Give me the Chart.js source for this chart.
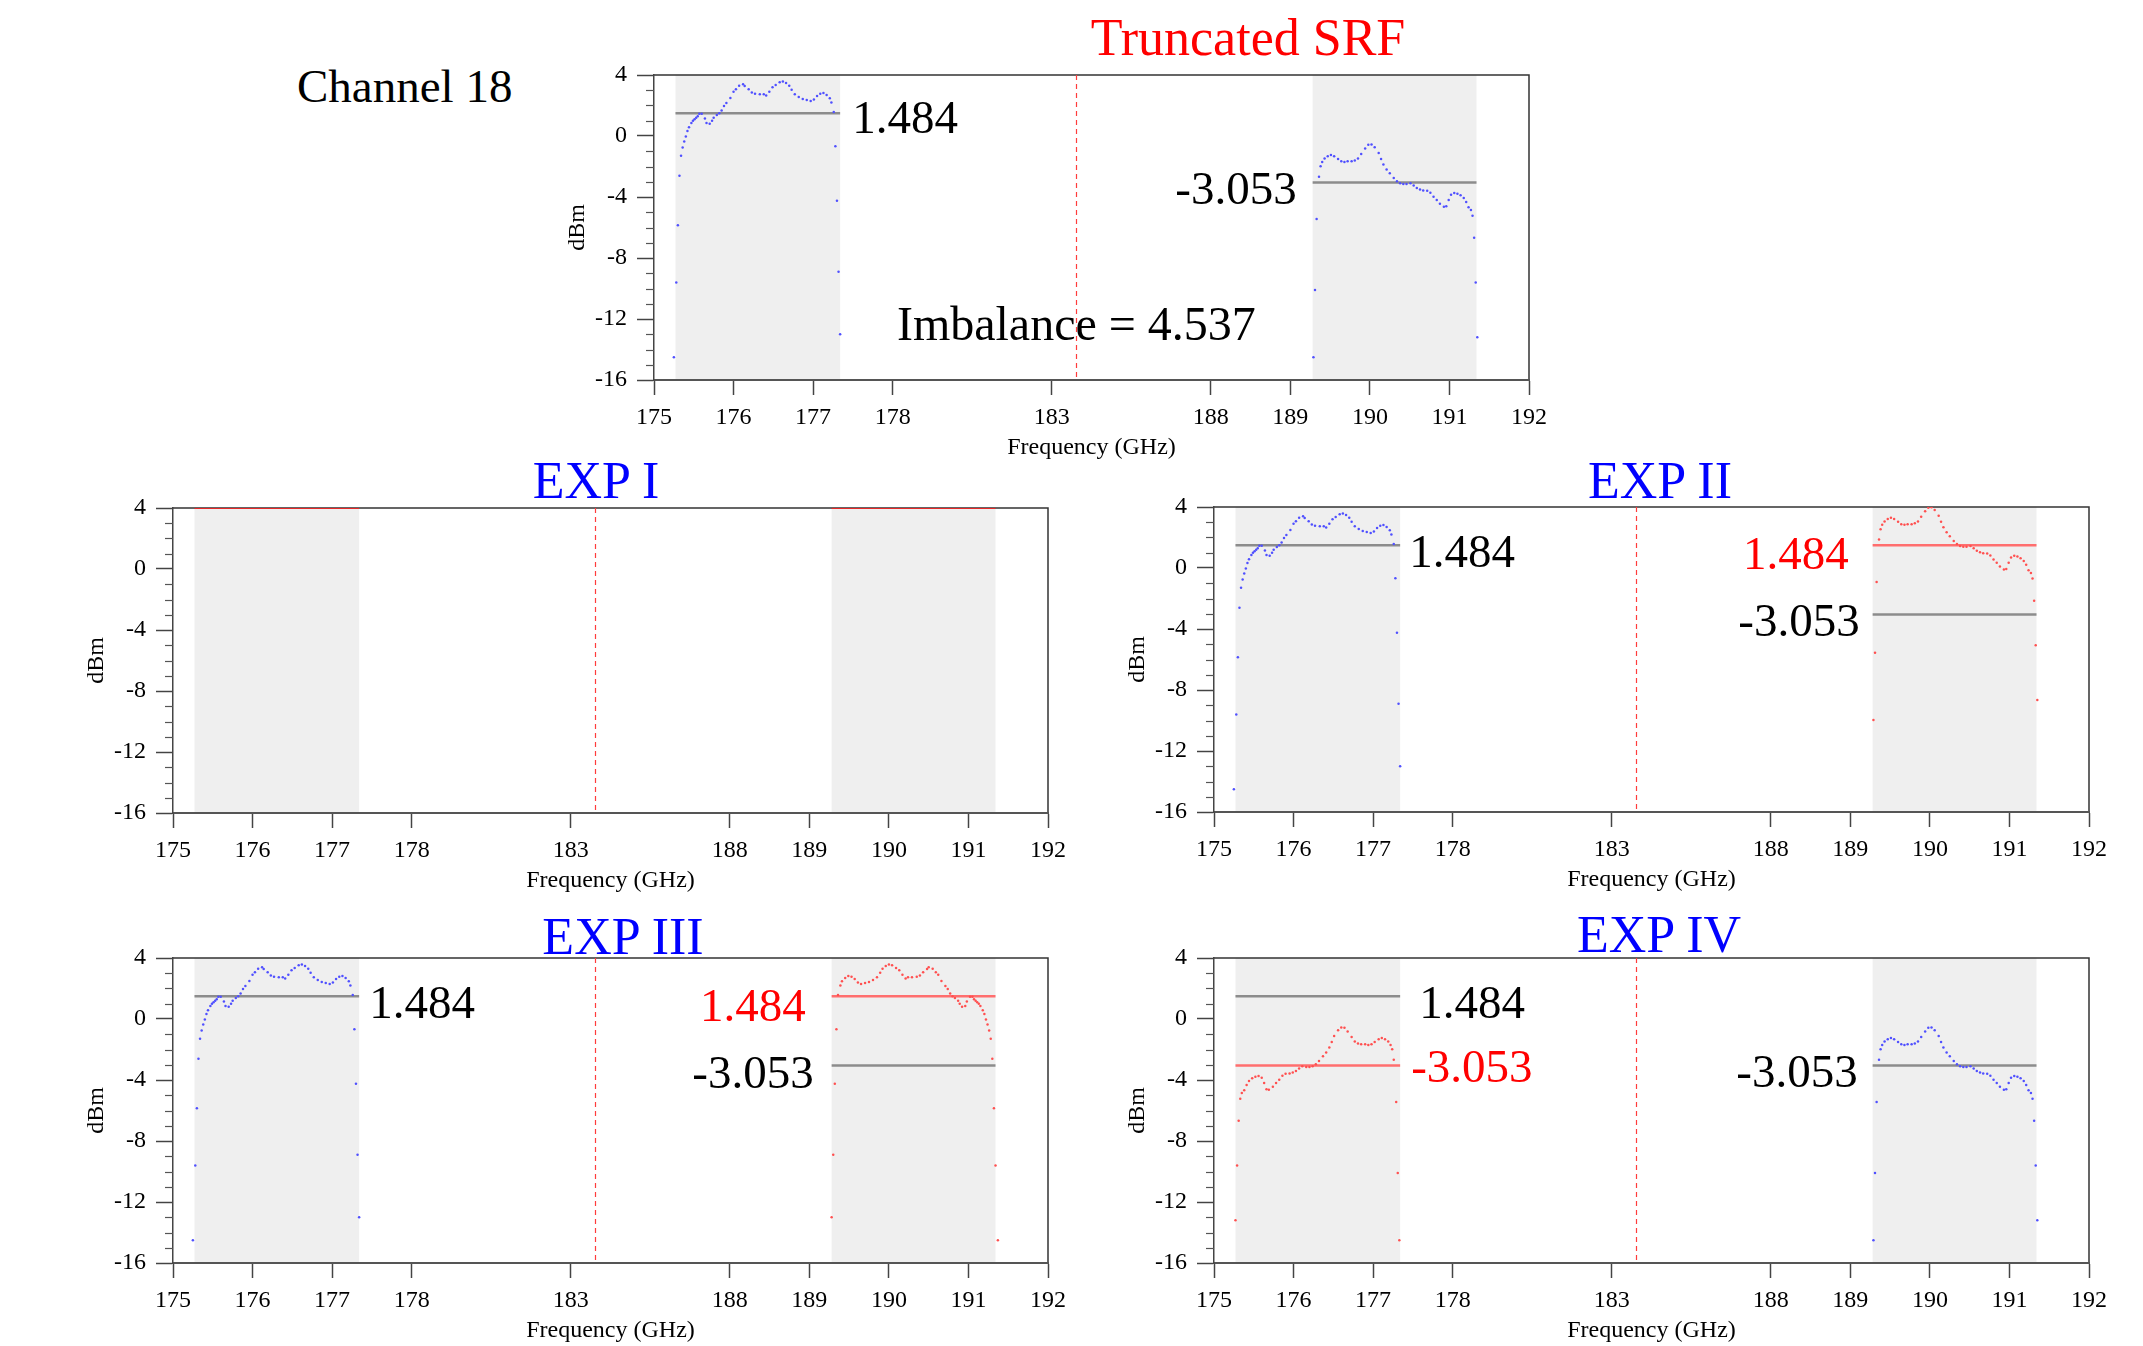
<!DOCTYPE html>
<html>
<head>
<meta charset="utf-8">
<script src="https://cdn.jsdelivr.net/npm/chart.js@4.4.1/dist/chart.umd.min.js"></script>
<style>
  body { margin: 0; width: 2143px; height: 1346px; background: #fff; position: relative; overflow: hidden;
         font-family: 'Liberation Serif', 'Times New Roman', serif; }
  canvas { position: absolute; }
  .t { position: absolute; line-height: 1; white-space: nowrap; transform: translate(-50%, -50%); }
</style>
</head>
<body>
<div class="t" style="left:1248px;top:38px;font-size:52px;color:#ff0000">Truncated SRF</div>
<div class="t" style="left:297px;top:86px;font-size:47px;color:#000;transform:translate(0,-50%)">Channel 18</div>
<div class="t" style="left:596px;top:481px;font-size:52px;color:#0000ff">EXP I</div>
<div class="t" style="left:1660px;top:481px;font-size:52px;color:#0000ff">EXP II</div>
<div class="t" style="left:623px;top:937px;font-size:52px;color:#0000ff">EXP III</div>
<div class="t" style="left:1659px;top:935px;font-size:52px;color:#0000ff">EXP IV</div>

<script>
var SERIF = "'Liberation Serif', 'Times New Roman', serif";
Chart.defaults.font.family = SERIF;
Chart.defaults.color = '#000';

// frequency axis ticks (GHz); the 178..188 stretch is squeezed on the plot
const tickFreqs = [175, 176, 177, 178, 183, 188, 189, 190, 191, 192];
const tickLabels = ['175', '176', '177', '178', '183', '188', '189', '190', '191', '192'];
const axisKnotFreq = [175, 178, 182, 184, 188, 192];
const axisKnotPos = [0, 3, 4, 6, 7, 11];

const loFreq = 183.31;
const lowerBand = [175.27, 177.34];
const upperBand = [189.28, 191.34];
const lowerMean = 1.484;
const upperMean = -3.053;
const imbalance = 4.537;
const expIFlat = 4;

// truncated SRF, lower sideband
const lowerFreq = [175.25, 175.28, 175.30, 175.32, 175.34, 175.36, 175.38, 175.40, 175.42, 175.44,
  175.47, 175.49, 175.51, 175.53, 175.55, 175.57, 175.60, 175.64, 175.66, 175.70,
  175.73, 175.75, 175.79, 175.82, 175.85, 175.88, 175.91, 175.96, 176.00, 176.03,
  176.07, 176.12, 176.14, 176.19, 176.23, 176.27, 176.33, 176.38, 176.41, 176.45,
  176.49, 176.53, 176.58, 176.62, 176.66, 176.70, 176.73, 176.77, 176.82, 176.87,
  176.92, 176.97, 177.01, 177.05, 177.09, 177.13, 177.17, 177.21, 177.23, 177.26,
  177.28, 177.30, 177.32, 177.34];
const lowerDbm = [-14.5, -9.6, -5.86, -2.6, -1.3, -0.75, -0.36, -0.03, 0.32, 0.58,
  0.85, 1.0, 1.1, 1.2, 1.3, 1.46, 1.46, 1.15, 0.85, 0.8,
  1.0, 1.2, 1.37, 1.5, 1.68, 1.96, 2.16, 2.5, 2.9, 3.06,
  3.3, 3.39, 3.28, 3.06, 2.86, 2.77, 2.73, 2.73, 2.66, 2.9,
  3.2, 3.34, 3.52, 3.58, 3.47, 3.3, 3.04, 2.73, 2.55, 2.42,
  2.36, 2.29, 2.4, 2.62, 2.77, 2.82, 2.69, 2.47, 2.2, 1.57,
  -0.67, -4.24, -8.9, -13.0];

// truncated SRF, upper sideband
const upperFreq = [189.29, 189.31, 189.33, 189.36, 189.38, 189.40, 189.43, 189.47, 189.51, 189.55,
  189.60, 189.64, 189.68, 189.72, 189.77, 189.81, 189.85, 189.89, 189.94, 189.98,
  190.02, 190.06, 190.11, 190.14, 190.17, 190.21, 190.25, 190.30, 190.34, 190.38,
  190.42, 190.46, 190.51, 190.55, 190.59, 190.63, 190.67, 190.72, 190.76, 190.80,
  190.84, 190.88, 190.93, 190.96, 190.99, 191.02, 191.06, 191.10, 191.14, 191.18,
  191.21, 191.24, 191.27, 191.29, 191.31, 191.33, 191.35];
const upperDbm = [-14.5, -10.1, -5.45, -2.67, -1.99, -1.70, -1.48, -1.33, -1.24, -1.33,
  -1.5, -1.66, -1.70, -1.66, -1.66, -1.61, -1.48, -1.18, -0.82, -0.58,
  -0.55, -0.74, -1.11, -1.5, -1.87, -2.2, -2.45, -2.76, -2.97, -3.1,
  -3.15, -3.15, -3.1, -3.24, -3.41, -3.5, -3.57, -3.59, -3.72, -3.98,
  -4.2, -4.44, -4.64, -4.6, -4.2, -3.85, -3.74, -3.78, -3.89, -4.07,
  -4.33, -4.68, -4.86, -5.23, -6.68, -9.6, -13.2];

var BLUE = 'rgb(80,80,255)';
var RED = 'rgb(255,80,80)';
var GRAY_LINE = 'rgb(140,140,140)';
var RED_LINE = 'rgb(255,110,110)';

var Y_W = 91, X_H = 82, PAD_TOP = 26, PAD_RIGHT = 30, PLOT_W = 875, PLOT_H = 305;

function freqToPos(f) {
    for (var i = 1; i < axisKnotFreq.length; i++) {
        if (f <= axisKnotFreq[i] || i === axisKnotFreq.length - 1) {
            var f0 = axisKnotFreq[i - 1], f1 = axisKnotFreq[i];
            var p0 = axisKnotPos[i - 1], p1 = axisKnotPos[i];
            return p0 + (f - f0) * (p1 - p0) / (f1 - f0);
        }
    }
}
function pts(fs, vs) { return fs.map(function (f, i) { return { x: freqToPos(f), y: vs[i] }; }); }
function mirror(f) { return 2 * loFreq - f; }
function fmt(v) { return v.toFixed(3); }

var lowerPts = pts(lowerFreq, lowerDbm);
var upperPts = pts(upperFreq, upperDbm);
var upperShiftedPts = pts(upperFreq, upperDbm.map(function (v) { return v + imbalance; }));
var lowerMirroredPts = pts(lowerFreq.map(mirror), lowerDbm);
var upperMirroredPts = pts(upperFreq.map(mirror), upperDbm);

function dots(data, color) {
    return { data: data, showLine: false, pointRadius: 1.25, pointBorderWidth: 0, pointBackgroundColor: color };
}
function meanLine(band, value, color, width) {
    return {
        data: [{ x: freqToPos(band[0]), y: value }, { x: freqToPos(band[1]), y: value }],
        showLine: true, borderColor: color, borderWidth: width || 2.5, pointRadius: 0
    };
}

var panels = [
    { left: 654, top: 75,
      datasets: [dots(lowerPts, BLUE), dots(upperPts, BLUE),
                 meanLine(lowerBand, lowerMean, GRAY_LINE), meanLine(upperBand, upperMean, GRAY_LINE)],
      labels: [
          { text: fmt(lowerMean), f: lowerBand[1], y: lowerMean, align: 'left', dx: 12, dy: 7 },
          { text: fmt(upperMean), f: upperBand[0], y: upperMean, align: 'right', dx: -16, dy: 9 },
          { text: 'Imbalance = ' + fmt(imbalance), f: loFreq, y: -12.2, align: 'center', dx: 0, dy: 5, size: 48 }
      ] },
    { left: 173, top: 508,
      datasets: [meanLine(lowerBand, expIFlat, 'rgb(230,40,40)', 2), meanLine(upperBand, expIFlat, 'rgb(230,40,40)', 2)],
      labels: [] },
    { left: 1214, top: 507,
      datasets: [dots(lowerPts, BLUE), dots(upperShiftedPts, RED),
                 meanLine(lowerBand, lowerMean, GRAY_LINE), meanLine(upperBand, lowerMean, RED_LINE),
                 meanLine(upperBand, upperMean, GRAY_LINE)],
      labels: [
          { text: fmt(lowerMean), f: lowerBand[1], y: lowerMean, align: 'left', dx: 9, dy: 9 },
          { text: fmt(lowerMean), f: upperBand[0], y: lowerMean, align: 'right', dx: -24, dy: 11, color: '#ff0000' },
          { text: fmt(upperMean), f: upperBand[0], y: upperMean, align: 'right', dx: -13, dy: 9 }
      ] },
    { left: 173, top: 958,
      datasets: [dots(lowerPts, BLUE), dots(lowerMirroredPts, RED),
                 meanLine(lowerBand, lowerMean, GRAY_LINE), meanLine(upperBand, lowerMean, RED_LINE),
                 meanLine(upperBand, upperMean, GRAY_LINE)],
      labels: [
          { text: fmt(lowerMean), f: lowerBand[1], y: lowerMean, align: 'left', dx: 10, dy: 9 },
          { text: fmt(lowerMean), f: upperBand[0], y: lowerMean, align: 'right', dx: -26, dy: 12, color: '#ff0000' },
          { text: fmt(upperMean), f: upperBand[0], y: upperMean, align: 'right', dx: -18, dy: 10 }
      ] },
    { left: 1214, top: 958,
      datasets: [dots(upperMirroredPts, RED), dots(upperPts, BLUE),
                 meanLine(lowerBand, lowerMean, GRAY_LINE), meanLine(lowerBand, upperMean, RED_LINE),
                 meanLine(upperBand, upperMean, GRAY_LINE)],
      labels: [
          { text: fmt(lowerMean), f: lowerBand[1], y: lowerMean, align: 'left', dx: 19, dy: 9 },
          { text: fmt(upperMean), f: lowerBand[1], y: upperMean, align: 'left', dx: 11, dy: 4, color: '#ff0000' },
          { text: fmt(upperMean), f: upperBand[0], y: upperMean, align: 'right', dx: -15, dy: 9 }
      ] }
];

function decorPlugin(panel) {
    return {
        id: 'panelDecor',
        beforeDraw: function (chart) {
            var ctx = chart.ctx, a = chart.chartArea, x = chart.scales.x;
            ctx.save();
            ctx.fillStyle = '#efefef';
            [lowerBand, upperBand].forEach(function (b) {
                var x0 = x.getPixelForValue(freqToPos(b[0])), x1 = x.getPixelForValue(freqToPos(b[1]));
                ctx.fillRect(x0, a.top, x1 - x0, a.bottom - a.top);
            });
            // top and right frame
            ctx.strokeStyle = '#333';
            ctx.lineWidth = 1.5;
            ctx.beginPath();
            ctx.moveTo(a.left, a.top);
            ctx.lineTo(a.right, a.top);
            ctx.lineTo(a.right, a.bottom);
            ctx.stroke();
            // LO frequency
            var xc = Math.round(x.getPixelForValue(freqToPos(loFreq))) + 0.5;
            ctx.strokeStyle = 'rgb(255,60,60)';
            ctx.lineWidth = 1.2;
            ctx.setLineDash([5, 4]);
            ctx.beginPath();
            ctx.moveTo(xc, a.top);
            ctx.lineTo(xc, a.bottom);
            ctx.stroke();
            ctx.restore();
        },
        afterDraw: function (chart) {
            var ctx = chart.ctx, a = chart.chartArea, x = chart.scales.x, y = chart.scales.y;
            ctx.save();
            // minor ticks every 1 dBm
            ctx.strokeStyle = '#555';
            ctx.lineWidth = 1.2;
            for (var v = -16; v <= 4; v++) {
                if (v % 4 === 0) continue;
                var py = Math.round(y.getPixelForValue(v)) + 0.5;
                ctx.beginPath();
                ctx.moveTo(a.left - 8, py);
                ctx.lineTo(a.left, py);
                ctx.stroke();
            }
            // value labels
            ctx.textBaseline = 'middle';
            panel.labels.forEach(function (l) {
                ctx.font = (l.size || 47) + 'px ' + SERIF;
                ctx.fillStyle = l.color || '#000';
                ctx.textAlign = l.align;
                ctx.fillText(l.text, x.getPixelForValue(freqToPos(l.f)) + l.dx, y.getPixelForValue(l.y) + l.dy);
            });
            ctx.restore();
        }
    };
}

panels.forEach(function (panel) {
    var canvas = document.createElement('canvas');
    canvas.width = Y_W + PLOT_W + PAD_RIGHT;
    canvas.height = PAD_TOP + PLOT_H + X_H;
    canvas.style.left = (panel.left - Y_W) + 'px';
    canvas.style.top = (panel.top - PAD_TOP) + 'px';
    document.body.appendChild(canvas);

    new Chart(canvas.getContext('2d'), {
        type: 'scatter',
        data: { datasets: panel.datasets },
        options: {
            responsive: false,
            animation: false,
            devicePixelRatio: 1,
            layout: { padding: { top: PAD_TOP, right: PAD_RIGHT, left: 0, bottom: 0 } },
            plugins: { legend: { display: false }, tooltip: { enabled: false } },
            scales: {
                x: {
                    type: 'linear', min: 0, max: 11,
                    afterBuildTicks: function (s) {
                        s.ticks = tickFreqs.map(function (f) { return { value: freqToPos(f) }; });
                    },
                    afterFit: function (s) { s.height = X_H; },
                    ticks: {
                        autoSkip: false, maxRotation: 0, padding: 8, color: '#000', font: { size: 24 },
                        callback: function (v, i) { return tickLabels[i]; }
                    },
                    grid: { drawOnChartArea: false, tickLength: 15, tickColor: '#444', tickWidth: 1.5 },
                    border: { display: true, color: '#555', width: 2 },
                    title: { display: true, text: 'Frequency (GHz)', color: '#000', font: { size: 24 }, padding: { top: 0, bottom: 0 } }
                },
                y: {
                    min: -16, max: 4,
                    afterFit: function (s) { s.width = Y_W; },
                    ticks: { stepSize: 4, padding: 10, color: '#000', font: { size: 24 } },
                    grid: { drawOnChartArea: false, tickLength: 17, tickColor: '#444', tickWidth: 1.5 },
                    border: { display: true, color: '#444', width: 1.5 },
                    title: { display: true, text: 'dBm', color: '#000', font: { size: 24 }, padding: { top: 0, bottom: 0 } }
                }
            }
        },
        plugins: [decorPlugin(panel)]
    });
});
</script>
</body>
</html>
